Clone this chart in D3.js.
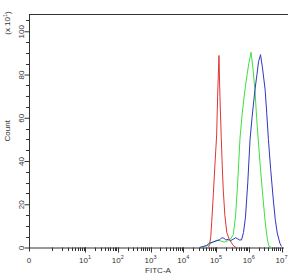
<!DOCTYPE html>
<html><head><meta charset="utf-8">
<script src="https://cdn.jsdelivr.net/npm/d3@7"></script>
<style>
html,body{margin:0;padding:0;background:#fff;}
svg{display:block;font-family:"Liberation Sans",Arial,sans-serif;}
</style></head>
<body><svg id="c" width="290" height="275"></svg>
<script>
// log10(FITC-A), count (x10^1)
const redSeries = [[4.76,0],[4.80,1],[4.84,5],[4.87,12],[4.92,25],[4.97,39],[5.02,52],[5.05,70],[5.09,88.8],[5.12,70],[5.16,51],[5.19,38],[5.22,27],[5.27,15],[5.33,7],[5.40,4],[5.48,2],[5.55,0.5],[5.62,0]];
const greenSeries = [[4.5,0],[4.65,0.5],[4.75,1],[4.85,2],[4.95,2.8],[5.05,3.5],[5.15,3],[5.25,2.5],[5.35,3],[5.45,4],[5.53,6],[5.6,15],[5.67,32],[5.73,50],[5.8,62],[5.885,73],[5.95,80],[6.0,85],[6.07,90.3],[6.12,84],[6.19,73],[6.24,60],[6.29,50],[6.36,36],[6.44,22],[6.5,12],[6.57,3.5],[6.62,0.5],[6.7,0]];
const blueSeries = [[4.5,0],[4.62,0.5],[4.72,1],[4.8,2],[4.9,2.5],[5.0,3],[5.1,3.5],[5.18,4.5],[5.24,4.3],[5.3,3.5],[5.38,3.8],[5.45,3.2],[5.52,3.8],[5.6,4.5],[5.66,4],[5.72,3.5],[5.78,3.5],[5.84,7],[5.9,14],[5.97,30],[6.04,50],[6.1,60],[6.19,73],[6.25,80],[6.3,86],[6.36,89.2],[6.42,83],[6.5,73],[6.55,62],[6.6,50],[6.67,36],[6.75,22],[6.81,13],[6.87,6.7],[6.95,2],[7.0,0.5]];
const seriesColors = ["#e03535","#3ee03e","#3434c4"];
const yTicks = [0,20,40,60,80,100];
const xDecades = [1,2,3,4,5,6,7];
const yLabel = "Count";
const yUnit = "(x 10";
const xLabel = "FITC-A";

const svg = d3.select("#c");
const L=29, R=284, T=14, B=247.5;
const x = d3.scaleLog().domain([1,1e7]).range([52.25,281.5]);
const x0 = L; // position of "0"
const y = d3.scaleLinear().domain([0,108]).range([B,T]);
const ink="#333";

// top border
svg.append("line").attr("x1",L).attr("x2",R+4).attr("y1",T+0.5).attr("y2",T+0.5).attr("stroke",ink).attr("stroke-width",1);

// y axis
const yAxis = d3.axisLeft(y).tickValues(yTicks).tickSize(5).tickFormat(d3.format("d"));
const gy = svg.append("g").attr("transform",`translate(${L+0.5},0)`).call(yAxis);
gy.select(".domain").attr("stroke",ink).attr("d",`M0,${T}V${B+4}`);
gy.selectAll(".tick line").attr("stroke",ink);
gy.selectAll(".tick text").attr("fill",ink).attr("font-size",8).each(function(d){
    d3.select(this).attr("x",null).attr("dy",null).attr("text-anchor","middle")
      .attr("transform",`translate(-5.5,0) rotate(-90)`);
  });
// minor y ticks
const yMinor = d3.range(5,108,5).filter(v=>v%20!==0);
svg.append("g").selectAll("line").data(yMinor).join("line")
  .attr("x1",L-3).attr("x2",L).attr("y1",d=>Math.round(y(d))+0.5).attr("y2",d=>Math.round(y(d))+0.5).attr("stroke",ink);

// x axis
svg.append("line").attr("x1",L).attr("x2",R).attr("y1",B+0.5).attr("y2",B+0.5).attr("stroke",ink);
const minor=[];
for(let e=0;e<7;e++){for(let k=1;k<10;k++){minor.push(k*Math.pow(10,e));}}
svg.append("g").selectAll("line").data(minor).join("line")
  .attr("x1",d=>Math.round(x(d))+0.5).attr("x2",d=>Math.round(x(d))+0.5)
  .attr("y1",B).attr("y2",B+3.5).attr("stroke",ink);
svg.append("g").selectAll("line").data(xDecades).join("line")
  .attr("x1",d=>Math.round(x(Math.pow(10,d)))+0.5).attr("x2",d=>Math.round(x(Math.pow(10,d)))+0.5)
  .attr("y1",B).attr("y2",B+5).attr("stroke",ink);
const xl = svg.append("g").attr("fill",ink).attr("font-size",8);
xl.append("text").attr("x",x0).attr("y",B+15).attr("text-anchor","middle").text("0");
xDecades.forEach(d=>{
  const t = xl.append("text").attr("x",x(Math.pow(10,d))).attr("y",B+15).attr("text-anchor","middle");
  t.append("tspan").text("10");
  t.append("tspan").attr("dy",-4).attr("font-size",5.5).text(d);
});
svg.append("text").attr("x",158).attr("y",B+25.5).attr("text-anchor","middle").attr("font-size",8).attr("fill",ink).text(xLabel);

// y labels
svg.append("text").attr("transform",`translate(10,${(T+B)/2}) rotate(-90)`).attr("text-anchor","middle").attr("font-size",8).attr("fill",ink).text(yLabel);
const yu = svg.append("text").attr("transform",`translate(10,23) rotate(-90)`).attr("text-anchor","middle").attr("font-size",8).attr("fill",ink);
yu.append("tspan").text(yUnit);
yu.append("tspan").attr("dy",-3.5).attr("font-size",5.5).text("1");
yu.append("tspan").attr("dy",3.5).text(")");

// curves
const line = d3.line().x(d=>x(Math.pow(10,d[0]))).y(d=>y(d[1]));
[redSeries,greenSeries,blueSeries].forEach((s,i)=>{
  svg.append("path").datum(s).attr("d",line).attr("fill","none").attr("stroke",seriesColors[i]).attr("stroke-width",1);
});
</script></body></html>
